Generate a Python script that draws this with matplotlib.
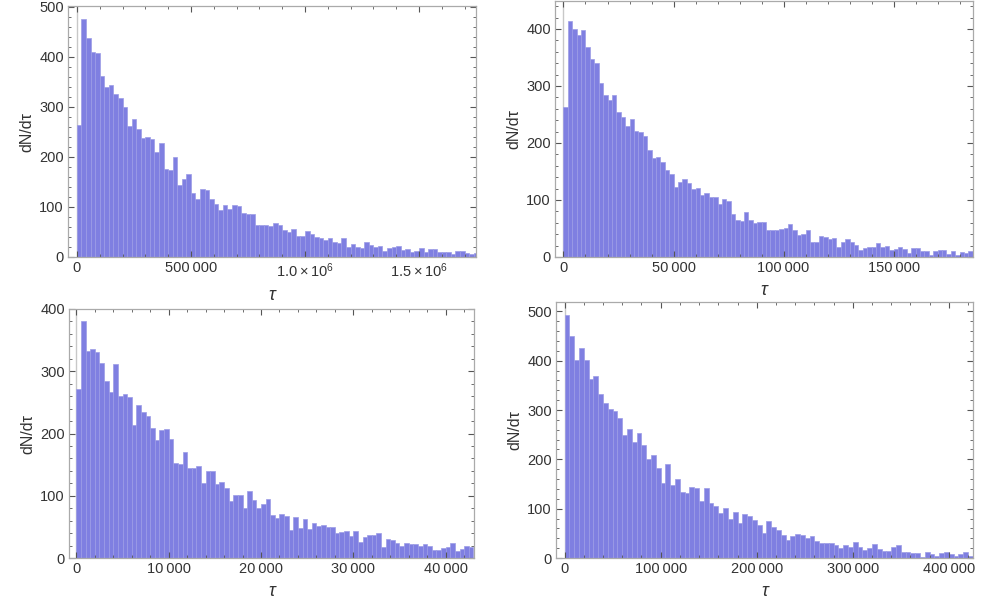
import numpy as np
import matplotlib.pyplot as plt
from matplotlib.ticker import MultipleLocator, FixedLocator, FixedFormatter

plt.rcParams['font.family'] = ['Liberation Sans', 'DejaVu Sans']

# bin counts
counts_a = [263, 477, 438, 410, 408, 362, 340, 343, 325, 317, 300, 262, 276, 255, 237, 240, 235, 210, 227, 176,
            173, 200, 143, 155, 165, 128, 116, 136, 133, 115, 105, 93, 104, 95, 104, 102, 87, 85, 85, 64,
            64, 64, 62, 68, 64, 53, 49, 55, 42, 41, 52, 45, 39, 38, 34, 38, 29, 27, 37, 19,
            25, 19, 17, 29, 23, 20, 21, 11, 17, 20, 21, 14, 16, 9, 11, 17, 9, 15, 15, 9,
            9, 10, 6, 12, 11, 7, 5, 7]
counts_b = [263, 414, 400, 389, 398, 368, 348, 340, 305, 284, 275, 285, 254, 246, 230, 242, 221, 220, 212, 188,
            174, 175, 166, 152, 146, 122, 132, 137, 129, 120, 121, 108, 112, 106, 106, 93, 102, 98, 76, 65,
            63, 79, 65, 60, 62, 61, 48, 48, 47, 49, 50, 58, 48, 38, 40, 47, 26, 26, 37, 35,
            32, 33, 18, 27, 31, 26, 21, 12, 15, 17, 18, 25, 17, 19, 12, 14, 17, 14, 7, 15,
            15, 10, 11, 3, 11, 12, 12, 6, 11, 3, 9, 7, 10]
counts_c = [271, 380, 332, 336, 331, 313, 285, 267, 312, 260, 263, 258, 214, 245, 235, 228, 209, 190, 206, 208,
            191, 152, 151, 171, 144, 145, 147, 121, 140, 139, 119, 122, 112, 92, 101, 101, 80, 107, 93, 80,
            86, 95, 69, 65, 70, 67, 45, 66, 48, 63, 46, 56, 52, 53, 50, 50, 40, 41, 43, 36,
            43, 26, 34, 37, 37, 40, 18, 30, 29, 24, 20, 24, 22, 22, 19, 23, 20, 13, 13, 16,
            18, 24, 12, 15, 19, 18]
counts_d = [493, 451, 401, 426, 401, 363, 368, 333, 315, 302, 299, 283, 249, 261, 236, 253, 230, 201, 208, 183,
            152, 191, 148, 160, 133, 131, 144, 142, 115, 142, 111, 106, 91, 102, 80, 93, 70, 89, 86, 77,
            67, 50, 74, 63, 57, 46, 37, 44, 49, 47, 40, 45, 35, 30, 31, 31, 26, 20, 27, 22,
            32, 22, 16, 20, 28, 18, 15, 15, 22, 26, 12, 12, 11, 10, 3, 13, 8, 4, 10, 13,
            9, 5, 8, 12, 5]

bin_width = [20000, 2000, 500, 5000]
xlims = [(-39000, 1750000), (-3860, 186100), (-800, 43070), (-8940, 425150)]
ylims = [(0, 502), (0, 449), (0, 400), (0, 519)]
xminor = [100000, 10000, 2000, 20000]
xticks = [[0, 500000, 1000000, 1500000], [0, 50000, 100000, 150000],
          [0, 10000, 20000, 30000, 40000], [0, 100000, 200000, 300000, 400000]]
xlabels = [['0', '500\u2009000', r'$\mathregular{1.0\times10^{6}}$', r'$\mathregular{1.5\times10^{6}}$'],
           ['0', '50\u2009000', '100\u2009000', '150\u2009000'],
           ['0', '10\u2009000', '20\u2009000', '30\u2009000', '40\u2009000'],
           ['0', '100\u2009000', '200\u2009000', '300\u2009000', '400\u2009000']]

# axes boxes in pixels: left, top, right, bottom
boxes = [(68, 6, 476, 257), (555, 1, 973, 257), (69, 309, 474, 558), (556, 302, 973, 558)]

W, H = 987, 603
fig = plt.figure(figsize=(W / 100, H / 100), dpi=100)

data = [counts_a, counts_b, counts_c, counts_d]
for i in range(4):
    l, t, r, b = boxes[i]
    ax = fig.add_axes([l / W, 1 - b / H, (r - l) / W, (b - t) / H])
    c = np.array(data[i])
    edges = np.arange(len(c)) * bin_width[i]
    ax.bar(edges, c, width=bin_width[i], align='edge', color='#7f7fe1',
           edgecolor='#9c9ce6', linewidth=0.5)
    ax.axvline(0, color='#c8c8c8', lw=1.0, zorder=0.5)
    ax.set_xlim(*xlims[i])
    ax.set_ylim(*ylims[i])

    ax.xaxis.set_major_locator(FixedLocator(xticks[i]))
    ax.xaxis.set_major_formatter(FixedFormatter(xlabels[i]))
    ax.xaxis.set_minor_locator(MultipleLocator(xminor[i]))
    ax.yaxis.set_major_locator(MultipleLocator(100))
    ax.yaxis.set_minor_locator(MultipleLocator(20))
    ax.tick_params(which='both', direction='in', top=True, right=True, color='#555555',
                   labelsize=10.5, labelcolor='#333333', pad=3)
    ax.tick_params(which='major', length=4, width=0.8)
    ax.tick_params(which='minor', length=2.2, width=0.6)
    for s in ax.spines.values():
        s.set_color('#aaaaaa')
        s.set_linewidth(0.9)

    ax.set_xlabel('\u03c4', fontsize=13, style='italic', color='#333333', labelpad=5)
    ax.set_ylabel('dN/d\u03c4', fontsize=11.5, color='#333333', labelpad=3.5)

fig.savefig('out.png', dpi=100)
